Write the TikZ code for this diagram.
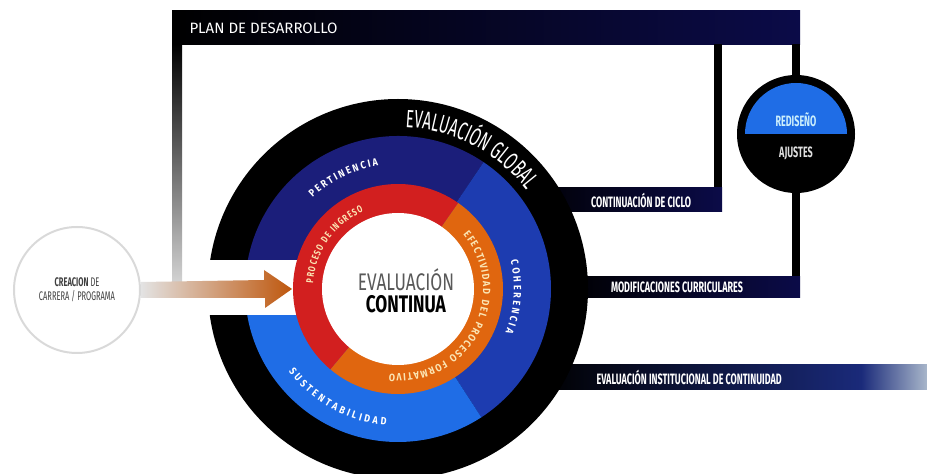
\documentclass[tikz,border=0pt]{standalone}
\usepackage{fontspec}
\setmainfont{Fira Sans}[FakeStretch=0.72]
\newfontfamily\condfont{Fira Sans}[FakeStretch=0.6]
\newfontfamily\ringfam{Fira Sans}[FakeStretch=0.85]
\newfontfamily\plainfont{Fira Sans}
\usetikzlibrary{decorations.text,positioning}
\definecolor{navy}{HTML}{1B1E7A}
\definecolor{royal}{HTML}{1D3CB0}
\definecolor{sky}{HTML}{1F6DE6}
\definecolor{ingreso}{HTML}{D21F1F}
\definecolor{formativo}{HTML}{E0660F}
\definecolor{cream}{HTML}{FBE5B4}
\definecolor{barblue}{HTML}{0B0B48}
\definecolor{fadeblue}{HTML}{1A2A7A}
\definecolor{fadeend}{HTML}{A8B6CA}
\tikzset{
  barlabel/.style={text=white, font=\condfont\bfseries\fontsize{15}{15}\selectfont},
  arclabel/.style={decorate, decoration={text along path, text color=white, text align=fit to path}},
  bar/.style={left color=black, right color=barblue}
}
\newcommand\ringfont{\ringfam\bfseries\fontsize{10.5}{10.5}\selectfont}
\newcommand\innerfont{\bfseries\fontsize{10}{10}\selectfont}
\begin{document}
\begin{tikzpicture}[x=1pt,y=1pt]
   \useasboundingbox (0,0) rectangle (927,474);
   \coordinate (c) at (398,185);
   \shade[bar] (172,429) rectangle (800,463);
   \node[anchor=west, text=white, font=\plainfont\fontsize{15}{15}\selectfont] (plan) at (186,446) {PLAN DE DESARROLLO};
   \shade[top color=black, bottom color=gray!35] (172,192) rectangle (182,430);
   \fill[black] (714,262) rectangle (722,430);
   \fill[black] (792,176) rectangle (800,430);
   \shade[bar] (520,262) rectangle (722,286);
   \shade[bar] (560,176) rectangle (800,197);
   \shade[left color=black, right color=fadeblue] (540,84) rectangle (862,109);
   \shade[left color=fadeblue, right color=fadeend] (861,84) rectangle (927,109);
   \node[barlabel] (ciclo) at (641,274) {CONTINUACIÓN DE CICLO};
   \node[barlabel] (modif) at (677,186.5) {MODIFICACIONES CURRICULARES};
   \node[barlabel, anchor=west] (instit) at (593,96.5) {EVALUACIÓN INSTITUCIONAL DE CONTINUIDAD};
   \fill[black] (796,340) circle (59);
   \fill[sky] (847,340) arc[start angle=0, end angle=180, radius=51] -- cycle;
   \node[text=cyan!20, font=\condfont\bfseries\fontsize{15}{15}\selectfont] (rediseno) at (796,354) {REDISEÑO};
   \node[text=gray!25, font=\condfont\bfseries\fontsize{15}{15}\selectfont] (ajustes) at (796,321) {AJUSTES};
   \fill[black] (c) circle (190);
   \fill[navy] (c) -- ([shift={(56:153)}]c) arc[start angle=56, end angle=180, radius=153] -- cycle;
   \fill[royal] (c) -- ([shift={(-57:153)}]c) arc[start angle=-57, end angle=56, radius=153] -- cycle;
   \fill[sky] (c) -- ([shift={(180:153)}]c) arc[start angle=180, end angle=303, radius=153] -- cycle;
   \fill[white] (200,159) rectangle (300,214);
   \fill[ingreso] (c) -- ([shift={(55:105)}]c) arc[start angle=55, end angle=230, radius=105] -- cycle;
   \fill[formativo] (c) -- ([shift={(-130:105)}]c) arc[start angle=-130, end angle=55, radius=105] -- cycle;
   \fill[white] (c) circle (76);
   \node[align=center, font=\fontsize{24}{22}\selectfont] (continua) at (406,183) {{\color{black!65}EVALUACIÓN}\\\textbf{CONTINUA}};
   \path[decorate, decoration={text along path, text color=white, text align=center,
      text={|\condfont\fontsize{25}{25}\selectfont|EVALUACIÓN GLOBAL}}]
      ([shift={(89:162)}]c) arc[start angle=89, end angle=36, radius=162];
   \path[arclabel, decoration={text={|\ringfont|PERTINENCIA}}]
      ([shift={(133:125)}]c) arc[start angle=133, end angle=99, radius=125];
   \path[arclabel, decoration={text={|\ringfont|COHERENCIA}}]
      ([shift={(14:116)}]c) arc[start angle=14, end angle=-22, radius=116];
   \path[arclabel, decoration={text={|\ringfont|SUSTENTABILIDAD}}]
      ([shift={(217:137)}]c) arc[start angle=217, end angle=265, radius=137];
   \path[arclabel, decoration={text color=cream, text={|\innerfont|PROCESO DE INGRESO}}]
      ([shift={(176:85)}]c) arc[start angle=176, end angle=114, radius=85];
   \path[arclabel, decoration={text color=cream, text={|\ringfont|EFECTIVIDAD DEL PROCESO FORMATIVO}}]
      ([shift={(40:85)}]c) arc[start angle=40, end angle=-96, radius=85];
   \node[circle, draw=gray!30, line width=2pt, minimum size=126pt] (creacion) at (77,184) {};
   \node[align=center, text=black!75, font=\condfont\fontsize{12.5}{14}\selectfont] (creaciontxt) at (creacion) {\textbf{CREACION} DE\\CARRERA / PROGRAMA};
   \shade[left color=gray!22, right color=formativo!85!black]
      ([yshift=-8]creacion.east) -- ++(124,0) -- ++(0,-10) -- (292,185) -- ++(-28,19) -- ++(0,-10) -- ([yshift=8]creacion.east) -- cycle;
\end{tikzpicture}
\end{document}
